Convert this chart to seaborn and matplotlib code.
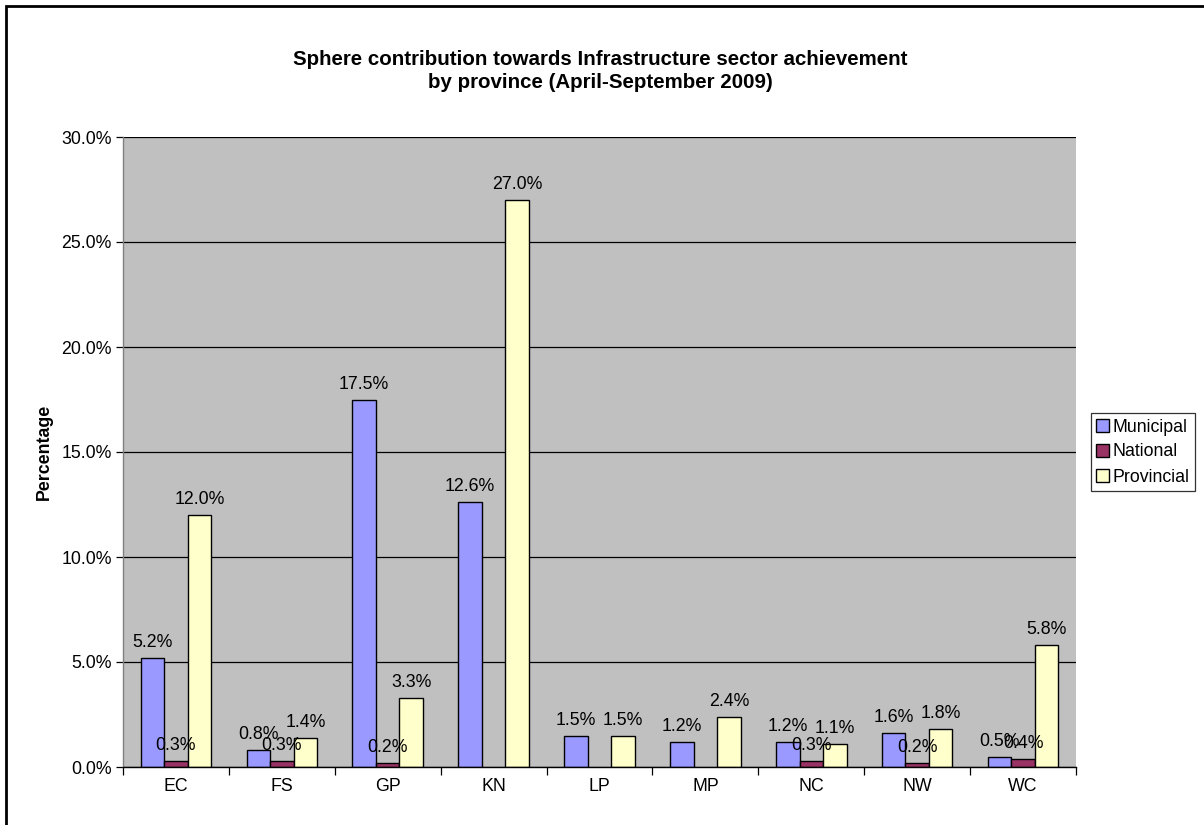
import matplotlib
matplotlib.use("Agg")
import matplotlib.pyplot as plt
import matplotlib.patches as mpatches
from matplotlib.ticker import FixedLocator, PercentFormatter
import numpy as np
import pandas as pd
import seaborn as sns

provinces = ["EC", "FS", "GP", "KN", "LP", "MP", "NC", "NW", "WC"]
spheres = ["Municipal", "National", "Provincial"]
municipal = [5.2, 0.8, 17.5, 12.6, 1.5, 1.2, 1.2, 1.6, 0.5]
national = [0.3, 0.3, 0.2, np.nan, np.nan, np.nan, 0.3, 0.2, 0.4]
provincial = [12.0, 1.4, 3.3, 27.0, 1.5, 2.4, 1.1, 1.8, 5.8]
colors = ["#9999FF", "#993366", "#FFFFCC"]
y_ticks = [0, 5, 10, 15, 20, 25, 30]

series = {"Municipal": municipal, "National": national, "Provincial": provincial}
df = pd.DataFrame(
    [(p, s, v) for s in spheres for p, v in zip(provinces, series[s])],
    columns=["Province", "Sphere", "Value"],
)

sns.set_theme(style="white")
plt.rcParams["font.family"] = ["Liberation Sans", "DejaVu Sans"]
plt.rcParams["text.color"] = "black"
plt.rcParams["axes.labelcolor"] = "black"
plt.rcParams["xtick.color"] = "black"
plt.rcParams["ytick.color"] = "black"

FS = 12.8
W, H = 1204, 825
fig = plt.figure(figsize=(W / 100, H / 100), dpi=100)
left, right, top, bottom = 123, 1076, 137, 767
ax = fig.add_axes([left / W, 1 - bottom / H, (right - left) / W, (bottom - top) / H])
ax.set_facecolor("#C0C0C0")

sns.barplot(
    data=df, x="Province", y="Value", hue="Sphere", order=provinces,
    hue_order=spheres, palette=colors, width=0.667, dodge=True,
    edgecolor="black", linewidth=1.0, saturation=1, ax=ax, legend=False,
)

# Value labels above each bar, looked up from the series by category position
for container, s in zip(ax.containers, spheres):
    for bar in container:
        if bar is None:
            continue
        xc = bar.get_x() + bar.get_width() / 2
        v = series[s][int(round(xc))]
        if np.isnan(v):
            continue
        ax.annotate(f"{v:.1f}%", (xc, v),
                    xytext=(0, 5), textcoords="offset points",
                    ha="center", va="bottom", fontsize=FS, color="black")

ax.set_ylim(0, 30)
ax.set_xlim(-0.5, len(provinces) - 0.5)
ax.yaxis.set_major_locator(FixedLocator(y_ticks))
ax.yaxis.set_major_formatter(PercentFormatter(decimals=1))
ax.grid(axis="y", color="black", linewidth=0.9)
ax.set_axisbelow(True)

ax.tick_params(axis="y", which="major", direction="out", length=5, width=0.9,
               color="black", labelsize=FS, pad=3, left=True)
ax.tick_params(axis="x", which="major", length=0, labelsize=FS, pad=8)
ax.set_xticks(np.arange(-0.5, len(provinces)), minor=True)
ax.tick_params(axis="x", which="minor", direction="out", length=6, width=0.9,
               color="black", bottom=True)

for side in ["top", "right"]:
    ax.spines[side].set_visible(False)
ax.spines["left"].set_color("#808080")
ax.spines["bottom"].set_color("black")
ax.spines["left"].set_linewidth(1.0)
ax.spines["bottom"].set_linewidth(1.0)

ax.set_xlabel("")
ax.set_ylabel("Percentage", fontsize=FS, fontweight="bold", labelpad=6)

fig.text(600 / W, 1 - 71 / H,
         "Sphere contribution towards Infrastructure sector achievement\n"
         "by province (April-September 2009)",
         ha="center", va="center", fontsize=14.8, fontweight="bold",
         linespacing=1.25)

handles = [mpatches.Patch(facecolor=c, edgecolor="black", linewidth=1.0, label=s)
           for c, s in zip(colors, spheres)]
leg = fig.legend(handles=handles, loc="center left",
                 bbox_to_anchor=(1091 / W, 1 - 452 / H),
                 fontsize=FS, frameon=True, fancybox=False,
                 handlelength=0.7, handleheight=0.7, handletextpad=0.2,
                 borderpad=0.3, labelspacing=0.45, borderaxespad=0)
leg.get_frame().set_edgecolor("black")
leg.get_frame().set_linewidth(0.9)

# Outer chart frame
fig.add_artist(mpatches.Rectangle((6 / W, -0.05), 1.2, 1 - 6 / H + 0.05,
                                  transform=fig.transFigure, fill=False,
                                  edgecolor="black", linewidth=2.0))

fig.savefig("out.png", dpi=100)
